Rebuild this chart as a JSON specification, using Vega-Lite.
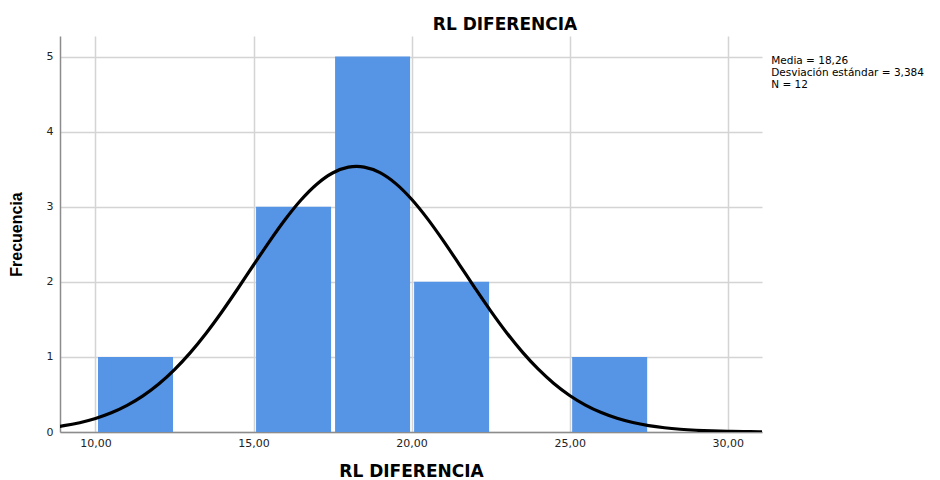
{
  "$schema": "https://vega.github.io/schema/vega-lite/v6.json",
  "autosize": {"type": "none"},
  "width": 702,
  "height": 396,
  "padding": {"left": 60, "top": 36, "right": 178, "bottom": 48},
  "background": "white",
  "config": {
    "view": {"stroke": null},
    "font": "DejaVu Sans"
  },
  "title": {
    "text": "RL DIFERENCIA",
    "font": "DejaVu Sans",
    "fontSize": 17,
    "fontWeight": "bold",
    "color": "#000000",
    "anchor": "middle",
    "dx": 94,
    "offset": 2
  },
  "datasets": {
    "bars": [
      {"bin_start": 10, "bin_end": 12.5, "count": 1},
      {"bin_start": 15, "bin_end": 17.5, "count": 3},
      {"bin_start": 17.5, "bin_end": 20, "count": 5},
      {"bin_start": 20, "bin_end": 22.5, "count": 2},
      {"bin_start": 25, "bin_end": 27.5, "count": 1}
    ],
    "curve": [
      {"x": 8.85, "y": 0.0745},
      {"x": 9.0, "y": 0.0840},
      {"x": 9.5, "y": 0.1240},
      {"x": 10.0, "y": 0.1798},
      {"x": 10.5, "y": 0.2551},
      {"x": 11.0, "y": 0.3541},
      {"x": 11.5, "y": 0.4809},
      {"x": 12.0, "y": 0.6390},
      {"x": 12.5, "y": 0.8308},
      {"x": 13.0, "y": 1.0567},
      {"x": 13.5, "y": 1.3151},
      {"x": 14.0, "y": 1.6012},
      {"x": 14.5, "y": 1.9077},
      {"x": 15.0, "y": 2.2237},
      {"x": 15.5, "y": 2.5359},
      {"x": 16.0, "y": 2.8297},
      {"x": 16.5, "y": 3.0894},
      {"x": 17.0, "y": 3.2999},
      {"x": 17.5, "y": 3.4486},
      {"x": 18.0, "y": 3.5263},
      {"x": 18.26, "y": 3.5367},
      {"x": 18.5, "y": 3.5278},
      {"x": 19.0, "y": 3.4532},
      {"x": 19.5, "y": 3.3071},
      {"x": 20.0, "y": 3.0988},
      {"x": 20.5, "y": 2.8409},
      {"x": 21.0, "y": 2.5482},
      {"x": 21.5, "y": 2.2363},
      {"x": 22.0, "y": 1.9202},
      {"x": 22.5, "y": 1.6133},
      {"x": 23.0, "y": 1.3261},
      {"x": 23.5, "y": 1.0664},
      {"x": 24.0, "y": 0.8391},
      {"x": 24.5, "y": 0.6461},
      {"x": 25.0, "y": 0.4866},
      {"x": 25.5, "y": 0.3586},
      {"x": 26.0, "y": 0.2586},
      {"x": 26.5, "y": 0.1824},
      {"x": 27.0, "y": 0.1259},
      {"x": 27.5, "y": 0.0851},
      {"x": 28.0, "y": 0.0562},
      {"x": 28.5, "y": 0.0363},
      {"x": 29.0, "y": 0.0230},
      {"x": 29.5, "y": 0.0142},
      {"x": 30.0, "y": 0.0086},
      {"x": 30.5, "y": 0.0051},
      {"x": 31.0, "y": 0.0030},
      {"x": 31.085, "y": 0.0027}
    ],
    "stats": [
      {"label": "Media = 18,26\nDesviación estándar = 3,384\nN = 12"}
    ]
  },
  "layer": [
    {
      "data": {"name": "bars"},
      "mark": {"type": "bar", "color": "#5694E6", "binSpacing": 4},
      "encoding": {
        "x": {
          "field": "bin_start",
          "type": "quantitative",
          "bin": "binned",
          "scale": {"domain": [8.877, 31.085], "nice": false, "zero": false},
          "axis": {
            "values": [10, 15, 20, 25, 30],
            "labelExpr": "replace(format(datum.value, '.2f'), '.', ',')",
            "title": "RL DIFERENCIA",
            "titleFont": "DejaVu Sans",
            "titleFontSize": 17,
            "titleFontWeight": "bold",
            "titleColor": "#000000",
            "titlePadding": 15,
            "labelFont": "DejaVu Sans",
            "labelFontSize": 11,
            "labelColor": "#222222",
            "labelPadding": 5,
            "ticks": false,
            "domainColor": "#8c8c8c",
            "domainWidth": 1.5,
            "grid": true,
            "gridColor": "#d4d4d4",
            "gridWidth": 1.5
          }
        },
        "x2": {"field": "bin_end"},
        "y": {
          "field": "count",
          "type": "quantitative",
          "scale": {"domain": [0, 5.273], "nice": false},
          "axis": {
            "values": [0, 1, 2, 3, 4, 5],
            "format": "d",
            "title": "Frecuencia",
            "titleFont": "Liberation Sans",
            "titleFontSize": 16,
            "titleFontWeight": "bold",
            "titleColor": "#000000",
            "titlePadding": 22,
            "labelFont": "DejaVu Sans",
            "labelFontSize": 11,
            "labelColor": "#222222",
            "labelPadding": 7,
            "ticks": false,
            "domainColor": "#8c8c8c",
            "domainWidth": 1.5,
            "grid": true,
            "gridColor": "#d4d4d4",
            "gridWidth": 1.5
          }
        }
      }
    },
    {
      "data": {"name": "curve"},
      "mark": {"type": "line", "color": "#000000", "strokeWidth": 3.2, "interpolate": "monotone", "clip": true},
      "encoding": {
        "x": {"field": "x", "type": "quantitative"},
        "y": {"field": "y", "type": "quantitative"}
      }
    },
    {
      "data": {"name": "stats"},
      "mark": {"type": "text", "align": "left", "baseline": "alphabetic", "font": "DejaVu Sans", "fontSize": 10.5, "lineHeight": 12, "lineBreak": "\n", "color": "#000000"},
      "encoding": {
        "text": {"field": "label", "type": "nominal"},
        "x": {"datum": 31.376, "type": "quantitative"},
        "y": {"datum": 4.9, "type": "quantitative"}
      }
    }
  ]
}
